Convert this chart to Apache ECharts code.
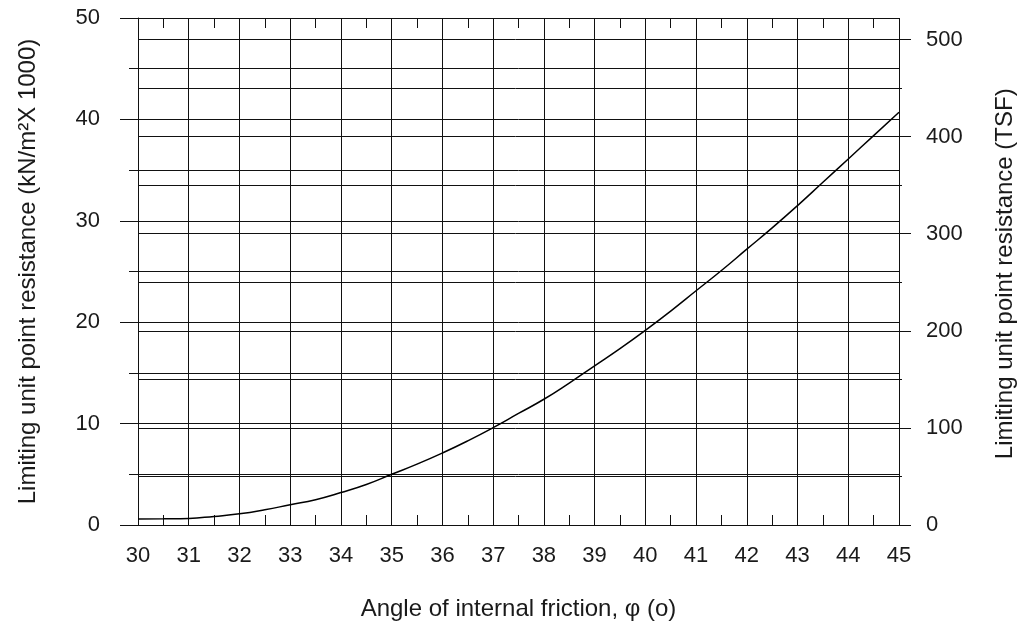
<!DOCTYPE html>
<html>
<head>
<meta charset="utf-8">
<script src="https://cdn.jsdelivr.net/npm/echarts@6/dist/echarts.min.js"></script>
<style>
html,body{margin:0;padding:0;background:#fff;}
#chart{width:1025px;height:626px;}
</style>
</head>
<body>
<div id="chart"></div>
<script>
// Angle of internal friction (degrees)
const angles = [30, 30.5, 31, 31.5, 32, 32.5, 33, 33.5, 34, 34.5, 35, 35.5, 36, 36.5, 37, 37.5,
  38, 38.5, 39, 39.5, 40, 40.5, 41, 41.5, 42, 42.5, 43, 43.5, 44, 44.5, 45];
// Limiting unit point resistance (kN/m² x 1000)
const resistance = [0.6, 0.62, 0.65, 0.85, 1.1, 1.5, 2.0, 2.5, 3.2, 4.0, 5.0, 6.0, 7.1, 8.3, 9.6, 11.0,
  12.4, 14.0, 15.7, 17.4, 19.2, 21.1, 23.1, 25.1, 27.2, 29.3, 31.5, 33.8, 36.1, 38.4, 40.7];
// Axis ranges
const leftMax = 50;          // kN/m² x 1000
const kNx1000PerTSF = 0.095761;
const rightLabelMax = 500;   // TSF
const rightFullMax = leftMax / kNx1000PerTSF; // TSF at the top of the plot

const FONT = '"Liberation Sans", Arial, sans-serif';
const INK = '#111';
const TXT = '#1a1a1a';
const gTop = 18, gBottom = 101, gLeft = 138, gRight = 126;
const gHeight = 626 - gTop - gBottom;
const g2Top = gTop + gHeight * (1 - rightLabelMax / rightFullMax);

const chart = echarts.init(document.getElementById('chart'), null, {renderer: 'canvas'});
const lineStyle = {color: INK, width: 1};
chart.setOption({
  animation: false,
  backgroundColor: '#fff',
  grid: [
    {left: gLeft, right: gRight, top: gTop, bottom: gBottom},
    {left: gLeft, right: gRight, top: g2Top, bottom: gBottom}
  ],
  xAxis: [
    {
      type: 'value', gridIndex: 0, position: 'bottom', min: 30, max: 45, interval: 1,
      axisLine: {show: true, lineStyle: lineStyle},
      axisTick: {show: true, inside: true, length: 10, lineStyle: lineStyle},
      minorTick: {show: true, splitNumber: 2, length: 10, lineStyle: lineStyle},
      splitLine: {show: true, lineStyle: lineStyle},
      axisLabel: {fontFamily: FONT, fontSize: 22, color: TXT, margin: 20},
      name: 'Angle of internal friction, \u03C6 (o)',
      nameLocation: 'middle', nameGap: 72,
      nameTextStyle: {fontFamily: FONT, fontSize: 24, color: TXT}
    },
    {
      type: 'value', gridIndex: 0, position: 'top', min: 30, max: 45, interval: 1,
      axisLine: {show: true, lineStyle: lineStyle},
      axisTick: {show: true, inside: true, length: 10, lineStyle: lineStyle},
      minorTick: {show: true, splitNumber: 2, length: 10, lineStyle: lineStyle},
      splitLine: {show: false},
      axisLabel: {show: false}
    },
    {type: 'value', gridIndex: 1, min: 30, max: 45, show: false}
  ],
  yAxis: [
    {
      type: 'value', gridIndex: 0, position: 'left', min: 0, max: leftMax, interval: 10,
      axisLine: {show: true, lineStyle: lineStyle},
      axisTick: {show: true, inside: false, length: 18, lineStyle: lineStyle},
      minorTick: {show: true, splitNumber: 2, length: 9, lineStyle: lineStyle},
      splitLine: {show: true, lineStyle: lineStyle},
      minorSplitLine: {show: true, lineStyle: lineStyle},
      axisLabel: {fontFamily: FONT, fontSize: 22, color: TXT, margin: 38},
      name: 'Limiting unit point resistance (kN/m\u00B2X 1000)',
      nameLocation: 'middle', nameGap: 98,
      nameTextStyle: {fontFamily: FONT, fontSize: 24, color: TXT}
    },
    {
      type: 'value', gridIndex: 1, position: 'right', min: 0, max: rightLabelMax, interval: 100,
      axisLine: {show: false},
      axisTick: {show: true, inside: false, length: 18, lineStyle: lineStyle},
      minorTick: {show: true, splitNumber: 2, length: 9, lineStyle: lineStyle},
      splitLine: {show: true, lineStyle: lineStyle},
      minorSplitLine: {show: true, lineStyle: lineStyle},
      axisLabel: {fontFamily: FONT, fontSize: 22, color: TXT, margin: 33},
      name: 'Limiting unit point resistance (TSF)',
      nameLocation: 'middle', nameGap: 100,
      nameTextStyle: {fontFamily: FONT, fontSize: 24, color: TXT, padding: [0, 0, 0, 17]}
    }
  ],
  series: [
    {
      type: 'line', xAxisIndex: 0, yAxisIndex: 0,
      data: angles.map((a, i) => [a, resistance[i]]),
      smooth: true, showSymbol: false,
      lineStyle: {color: '#000', width: 1.5}, z: 5
    },
    {type: 'line', xAxisIndex: 2, yAxisIndex: 1, data: [], showSymbol: false}
  ]
});
</script>
</body>
</html>
